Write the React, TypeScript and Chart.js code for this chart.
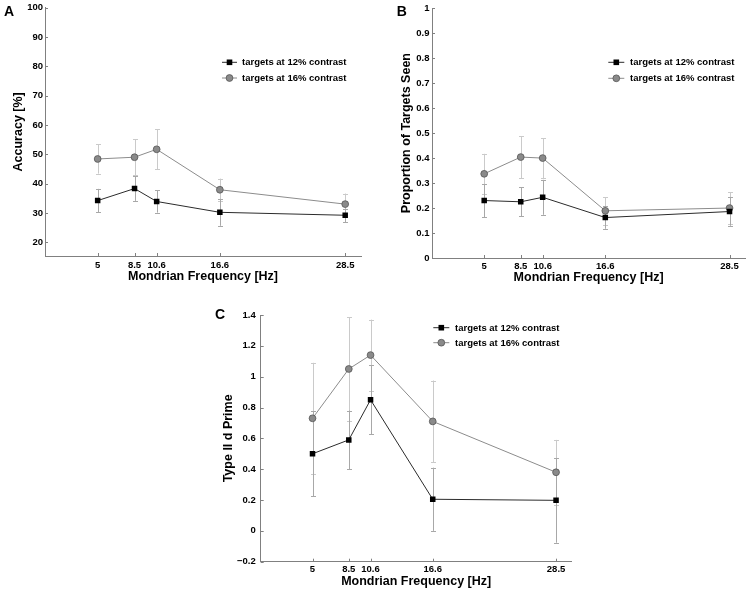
import React, { useEffect, useRef } from "react";
import { Chart, registerables } from "chart.js";

Chart.register(...registerables);

// ---------- data ----------
const FREQ = [5, 8.5, 10.6, 16.6, 28.5];
const X_TICKS = [5, 8.5, 10.6, 16.6, 28.5];
const LEGEND_LABELS = ["targets at 12% contrast", "targets at 16% contrast"];

const ACC_12 = [34.2, 38.3, 33.9, 30.2, 29.2];
const ACC_12_ERR = [4.0, 4.2, 3.8, 4.6, 2.3];
const ACC_16 = [48.4, 49.0, 51.7, 37.9, 33.0];
const ACC_16_ERR = [5.0, 6.1, 6.8, 3.8, 3.6];
const A_Y_TICKS = [20, 30, 40, 50, 60, 70, 80, 90, 100];

const SEEN_12 = [0.23, 0.225, 0.243, 0.162, 0.186];
const SEEN_12_ERR = [0.066, 0.058, 0.07, 0.045, 0.057];
const SEEN_16 = [0.337, 0.404, 0.4, 0.189, 0.2];
const SEEN_16_ERR = [0.08, 0.084, 0.08, 0.055, 0.063];
const B_Y_TICKS = [0, 0.1, 0.2, 0.3, 0.4, 0.5, 0.6, 0.7, 0.8, 0.9, 1];

const DP_12 = [0.5, 0.59, 0.85, 0.205, 0.198];
const DP_12_ERR = [0.275, 0.19, 0.225, 0.205, 0.275];
const DP_16 = [0.73, 1.05, 1.14, 0.71, 0.38];
const DP_16_ERR = [0.36, 0.335, 0.23, 0.265, 0.21];
const C_Y_TICKS = [-0.2, 0, 0.2, 0.4, 0.6, 0.8, 1, 1.2, 1.4];

// ---------- styles ----------
const FONT = "'Liberation Sans', Arial, Helvetica, sans-serif";
const AXIS_COLOR = "#808080";
const LINE12 = "#2b2b2b";
const LINE16 = "#8c8c8c";
const ERR12 = "#a8a8a8";
const ERR16 = "#cacaca";
const FILL16 = "#8a8a8a";
const EDGE16 = "#555555";

const fmt = (v: number) => (v < 0 ? "\u2212" + String(Math.abs(v)) : String(v));

const panelPlugin = {
  id: "panelDeco",
  beforeDatasetsDraw(chart: any, _args: any, opts: any) {
    const ctx = chart.ctx;
    const xs = chart.scales.x;
    const ys = chart.scales.y;
    const order = [1, 0];
    order.forEach((di) => {
      const ds = chart.data.datasets[di];
      const errs = opts.errors[di];
      ctx.save();
      ctx.strokeStyle = di === 0 ? ERR12 : ERR16;
      ctx.lineWidth = 1;
      ds.data.forEach((pt: any, i: number) => {
        const px = Math.round(xs.getPixelForValue(pt.x)) + 0.5;
        const top = ys.getPixelForValue(pt.y + errs[i]);
        const bot = ys.getPixelForValue(pt.y - errs[i]);
        ctx.beginPath();
        ctx.moveTo(px, top);
        ctx.lineTo(px, bot);
        ctx.moveTo(px - 2.5, Math.round(top) + 0.5);
        ctx.lineTo(px + 2.5, Math.round(top) + 0.5);
        ctx.moveTo(px - 2.5, Math.round(bot) + 0.5);
        ctx.lineTo(px + 2.5, Math.round(bot) + 0.5);
        ctx.stroke();
      });
      ctx.restore();
    });
  },
  afterDraw(chart: any, _args: any, opts: any) {
    const ctx = chart.ctx;
    const xs = chart.scales.x;
    const ys = chart.scales.y;
    const area = chart.chartArea;
    ctx.save();
    // inward tick marks
    ctx.strokeStyle = AXIS_COLOR;
    ctx.lineWidth = 1;
    ctx.beginPath();
    xs.ticks.forEach((t: any) => {
      const px = Math.round(xs.getPixelForValue(t.value)) + 0.5;
      ctx.moveTo(px, area.bottom);
      ctx.lineTo(px, area.bottom - 3);
    });
    ys.ticks.forEach((t: any) => {
      const py = Math.round(ys.getPixelForValue(t.value)) + 0.5;
      ctx.moveTo(area.left, py);
      ctx.lineTo(area.left + 3, py);
    });
    ctx.stroke();

    // panel letter
    ctx.fillStyle = "#000";
    ctx.font = "bold 14px " + FONT;
    ctx.textAlign = "left";
    ctx.textBaseline = "middle";
    ctx.fillText(opts.letter, opts.letterX, opts.letterY);

    // legend
    const lg = opts.legend;
    LEGEND_LABELS.forEach((label, i) => {
      const y = lg.rows[i];
      ctx.strokeStyle = i === 0 ? LINE12 : LINE16;
      ctx.lineWidth = 1;
      ctx.beginPath();
      ctx.moveTo(lg.x0, y);
      ctx.lineTo(lg.x1, y);
      ctx.stroke();
      if (i === 0) {
        ctx.fillStyle = "#000";
        ctx.fillRect(lg.mx - 2.8, y - 2.8, 5.6, 5.6);
      } else {
        ctx.beginPath();
        ctx.arc(lg.mx, y, 3.4, 0, Math.PI * 2);
        ctx.fillStyle = FILL16;
        ctx.fill();
        ctx.strokeStyle = EDGE16;
        ctx.lineWidth = 0.8;
        ctx.stroke();
      }
      ctx.fillStyle = "#000";
      ctx.font = "bold 9.5px " + FONT;
      ctx.textAlign = "left";
      ctx.textBaseline = "middle";
      ctx.fillText(label, lg.tx, y + 0.5);
    });
    ctx.restore();
  },
};

type Spec = {
  left: number;
  top: number;
  w: number;
  h: number;
  y12: number[];
  e12: number[];
  y16: number[];
  e16: number[];
  yTicks: number[];
  yMin: number;
  yMax: number;
  yTitle: string;
  pad: { left: number; top: number; right: number; bottom: number };
  yW: number;
  xH: number;
  xTickPad: number;
  xTitlePad: number;
  yTickPad: number;
  yTitlePad: number;
  letter: string;
  letterX: number;
  letterY: number;
  legend: { x0: number; x1: number; mx: number; tx: number; rows: number[] };
};

const SPECS: Spec[] = [
  {
    left: 0, top: 0, w: 375, h: 290,
    y12: ACC_12, e12: ACC_12_ERR, y16: ACC_16, e16: ACC_16_ERR,
    yTicks: A_Y_TICKS, yMin: 15.3, yMax: 100, yTitle: "Accuracy [%]",
    pad: { left: 0, top: 7, right: 14, bottom: 0 },
    yW: 45, xH: 34, xTickPad: 4, xTitlePad: 5.8, yTickPad: 2, yTitlePad: 10.8,
    letter: "A", letterX: 4, letterY: 12.5,
    legend: { x0: 222, x1: 237, mx: 229.5, tx: 242, rows: [62.3, 78] },
  },
  {
    left: 375, top: 0, w: 375, h: 290,
    y12: SEEN_12, e12: SEEN_12_ERR, y16: SEEN_16, e16: SEEN_16_ERR,
    yTicks: B_Y_TICKS, yMin: 0, yMax: 1, yTitle: "Proportion of Targets Seen",
    pad: { left: 0, top: 7, right: 1, bottom: 0 },
    yW: 57, xH: 32, xTickPad: 3, xTitlePad: 4.8, yTickPad: 2.5, yTitlePad: 24.2,
    letter: "B", letterX: 21.7, letterY: 12.5,
    legend: { x0: 233.3, x1: 249.3, mx: 241.3, tx: 255, rows: [62.3, 78.3] },
  },
  {
    left: 190, top: 300, w: 390, h: 289,
    y12: DP_12, e12: DP_12_ERR, y16: DP_16, e16: DP_16_ERR,
    yTicks: C_Y_TICKS, yMin: -0.2, yMax: 1.4, yTitle: "Type II d Prime",
    pad: { left: 0, top: 15, right: 8.4, bottom: 0 },
    yW: 70.7, xH: 27.3, xTickPad: 2, xTitlePad: 0, yTickPad: 5, yTitlePad: 31.5,
    letter: "C", letterX: 25, letterY: 15.5,
    legend: { x0: 243.3, x1: 259.3, mx: 251.3, tx: 265, rows: [27.7, 42.7] },
  },
];

function makeConfig(p: Spec): any {
  const tickFont = { family: FONT, size: 9.5, weight: "bold" as const };
  const titleFont = { family: FONT, size: 12.5, weight: "bold" as const };
  return {
    type: "scatter",
    data: {
      datasets: [
        {
          label: LEGEND_LABELS[0],
          data: FREQ.map((x, i) => ({ x, y: p.y12[i] })),
          showLine: true,
          borderColor: LINE12,
          borderWidth: 1,
          pointStyle: "rect",
          pointRadius: 3.9,
          pointBackgroundColor: "#000",
          pointBorderColor: "#000",
          pointBorderWidth: 0,
        },
        {
          label: LEGEND_LABELS[1],
          data: FREQ.map((x, i) => ({ x, y: p.y16[i] })),
          showLine: true,
          borderColor: LINE16,
          borderWidth: 1,
          pointStyle: "circle",
          pointRadius: 3.4,
          pointBackgroundColor: FILL16,
          pointBorderColor: EDGE16,
          pointBorderWidth: 0.8,
        },
      ],
    },
    options: {
      responsive: false,
      animation: false,
      devicePixelRatio: 1,
      events: [],
      layout: { padding: p.pad },
      plugins: {
        legend: { display: false },
        tooltip: { enabled: false },
        panelDeco: {
          errors: [p.e12, p.e16],
          letter: p.letter,
          letterX: p.letterX,
          letterY: p.letterY,
          legend: p.legend,
        },
      },
      scales: {
        x: {
          type: "linear",
          min: 0,
          max: 30,
          afterBuildTicks: (s: any) => {
            s.ticks = X_TICKS.map((v) => ({ value: v }));
          },
          afterFit: (s: any) => {
            s.height = p.xH;
          },
          grid: { display: false, drawTicks: false },
          border: { display: true, color: AXIS_COLOR, width: 1 },
          ticks: {
            font: tickFont,
            color: "#000",
            padding: p.xTickPad,
            autoSkip: false,
            maxRotation: 0,
            callback: (v: number) => fmt(v),
          },
          title: {
            display: true,
            text: "Mondrian Frequency [Hz]",
            font: titleFont,
            color: "#000",
            padding: { top: 0, bottom: p.xTitlePad },
          },
        },
        y: {
          type: "linear",
          min: p.yMin,
          max: p.yMax,
          afterBuildTicks: (s: any) => {
            s.ticks = p.yTicks.map((v) => ({ value: v }));
          },
          afterFit: (s: any) => {
            s.width = p.yW;
          },
          grid: { display: false, drawTicks: false },
          border: { display: true, color: AXIS_COLOR, width: 1 },
          ticks: {
            font: tickFont,
            color: "#000",
            padding: p.yTickPad,
            autoSkip: false,
            callback: (v: number) => fmt(v),
          },
          title: {
            display: true,
            text: p.yTitle,
            font: titleFont,
            color: "#000",
            padding: { top: p.yTitlePad, bottom: 0 },
          },
        },
      },
    },
    plugins: [panelPlugin],
  };
}

function Panel({ spec }: { spec: Spec }) {
  const ref = useRef<HTMLCanvasElement>(null);
  useEffect(() => {
    const chart = new Chart(ref.current as HTMLCanvasElement, makeConfig(spec));
    return () => chart.destroy();
  }, [spec]);
  return (
    <canvas
      ref={ref}
      width={spec.w}
      height={spec.h}
      style={{
        position: "absolute",
        left: spec.left,
        top: spec.top,
        width: spec.w,
        height: spec.h,
      }}
    />
  );
}

export default function App() {
  return (
    <div
      style={{
        position: "fixed",
        left: 0,
        top: 0,
        width: 750,
        height: 589,
        background: "#fff",
        overflow: "hidden",
      }}
    >
      {SPECS.map((s) => (
        <Panel key={s.letter} spec={s} />
      ))}
    </div>
  );
}
